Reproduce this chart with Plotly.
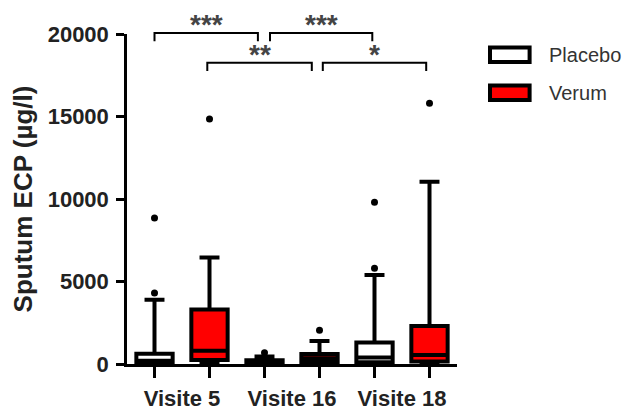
import plotly.graph_objects as go

# ---------------- data ----------------
categories = ["Visite 5", "Visite 16", "Visite 18"]

placebo_lo = [0, 0, 0]
placebo_q1 = [100, 0, 100]
placebo_med = [200, 60, 400]
placebo_q3 = [620, 220, 1300]
placebo_hi = [3900, 450, 5400]
placebo_outliers = [[4300, 8850], [680], [5800, 9800]]

verum_lo = [0, 0, 0]
verum_q1 = [250, 100, 150]
verum_med = [800, 350, 550]
verum_q3 = [3300, 600, 2300]
verum_hi = [6450, 1400, 11050]
verum_outliers = [[14850], [2050], [15800]]

# significance comparisons: (x start, x end, bracket level, label)
sig_left = [0.75, 1.80, 1.23, 2.28]
sig_right = [1.69, 2.73, 2.18, 3.22]
sig_level = [20060, 20060, 18260, 18260]
sig_label = ["***", "***", "**", "*"]

y_ticks = [0, 5000, 10000, 15000, 20000]

# ---------------- styling ----------------
FONT = "Arial, Liberation Sans, sans-serif"
OFF = 0.25
BOXW = 0.33
LW = 4
YMAX = 20000

group_pos = [i + 1 for i in range(len(categories))]
placebo_x = [p - OFF for p in group_pos]
verum_x = [p + OFF for p in group_pos]

fig = go.Figure()

fig.add_trace(go.Box(
    name="Placebo", x=placebo_x, q1=placebo_q1, median=placebo_med, q3=placebo_q3,
    lowerfence=placebo_lo, upperfence=placebo_hi, width=BOXW, whiskerwidth=0.55,
    fillcolor="white", line=dict(color="black", width=LW), showlegend=False,
    hoverinfo="skip"))
fig.add_trace(go.Box(
    name="Verum", x=verum_x, q1=verum_q1, median=verum_med, q3=verum_q3,
    lowerfence=verum_lo, upperfence=verum_hi, width=BOXW, whiskerwidth=0.55,
    fillcolor="#ff0000", line=dict(color="black", width=LW), showlegend=False,
    hoverinfo="skip"))

ox, oy = [], []
for xs, outs in ((placebo_x, placebo_outliers), (verum_x, verum_outliers)):
    for x, vals in zip(xs, outs):
        for v in vals:
            ox.append(x)
            oy.append(v)
fig.add_trace(go.Scatter(x=ox, y=oy, mode="markers", showlegend=False,
                         marker=dict(color="black", size=7), cliponaxis=False,
                         hoverinfo="skip"))

shapes = []
annotations = []
drop = 500
for x0, x1, lev, lab in zip(sig_left, sig_right, sig_level, sig_label):
    yt = lev / YMAX
    yb = (lev - drop) / YMAX
    shapes.append(dict(type="path", xref="x", yref="paper",
                       path=f"M {x0},{yb} L {x0},{yt} L {x1},{yt} L {x1},{yb}",
                       line=dict(color="black", width=2)))
    annotations.append(dict(x=(x0 + x1) / 2, y=yt, xref="x", yref="paper",
                            text=lab, showarrow=False, yanchor="bottom", yshift=-9,
                            font=dict(family=FONT, size=28, weight="bold", color="#444")))

# custom legend
legend_items = [("Placebo", "white"), ("Verum", "#ff0000")]
for i, (name, col) in enumerate(legend_items):
    yc = 1.0 - 0.063 - i * 0.115
    shapes.append(dict(type="rect", xref="paper", yref="paper",
                       x0=1.10, x1=1.22, y0=yc - 0.022, y1=yc + 0.022,
                       fillcolor=col, line=dict(color="black", width=4)))
    annotations.append(dict(x=1.273, y=yc, xref="paper", yref="paper", text=name,
                            showarrow=False, xanchor="left", yanchor="middle",
                            font=dict(family=FONT, size=20, color="#333")))

fig.update_layout(
    width=632, height=413,
    margin=dict(l=127, r=175, t=34, b=49, autoexpand=False),
    paper_bgcolor="white", plot_bgcolor="white",
    shapes=shapes, annotations=annotations,
    font=dict(family=FONT, color="#222"),
)
fig.update_xaxes(
    automargin=False,
    range=[0.5, 3.5], showgrid=False, zeroline=False,
    showline=True, linecolor="black", linewidth=2.5,
    tickvals=group_pos, ticktext=categories, ticks="",
    ticklabelstandoff=13,
    tickfont=dict(family=FONT, size=22, weight="bold", color="#222"),
    minor=dict(tickvals=placebo_x + verum_x, ticks="outside", ticklen=11,
               tickwidth=2.5, tickcolor="black"),
)
fig.update_yaxes(
    automargin=False,
    range=[0, YMAX], showgrid=False, zeroline=False,
    showline=True, linecolor="black", linewidth=2.5,
    tickvals=y_ticks, tickformat="d", ticks="outside", ticklen=8,
    tickwidth=2.5, tickcolor="black", ticklabelstandoff=3,
    tickfont=dict(family=FONT, size=22, weight="bold", color="#222"),
    title=dict(text="Sputum ECP (µg/l)", standoff=8,
               font=dict(family=FONT, size=26, weight="bold", color="#222")),
)

fig.write_html("out.html")
